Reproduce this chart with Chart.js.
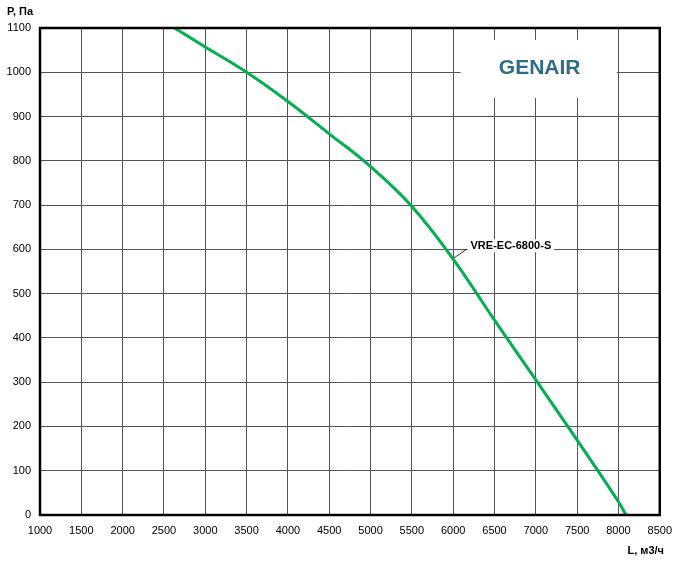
<!DOCTYPE html>
<html>
<head>
<meta charset="utf-8">
<script src="https://cdn.jsdelivr.net/npm/chart.js@4.4.1/dist/chart.umd.min.js"></script>
<style>
  html, body { margin: 0; padding: 0; background: #fff; }
  #wrap { width: 681px; height: 564px; }
</style>
</head>
<body>
<div id="wrap"><canvas id="fanChart" width="681" height="564"></canvas></div>
<script>
// Fan curve VRE-EC-6800-S
const flowL = [2630, 3000, 3500, 4000, 4500, 5000, 5500, 6000, 6500, 7000, 7500, 8000, 8090];
const pressureP = [1100, 1057, 1000, 934, 861, 787, 697, 578, 440, 305, 169, 30, 0];

const xMin = 1000, xMax = 8500, xStep = 500;
const yMin = 0, yMax = 1100, yStep = 100;

const seriesName = "VRE-EC-6800-S";
const labelAt = [5990, 578];      // point on curve where the leader starts
const labelText = [6210, 607];    // where the label sits
const brand = "GENAIR";
const yTitle = "P, Па";
const xTitle = "L, м3/ч";

const tickFont = { family: "Liberation Sans", size: 11 };

// frame, brand box, series label, axis titles
const decorPlugin = {
  id: "decor",
  beforeDatasetsDraw(chart) {
    const { ctx, scales: { x, y } } = chart;
    ctx.save();

    // brand box over the grid
    const bx0 = x.getPixelForValue(6090), bx1 = x.getPixelForValue(7980);
    const by0 = y.getPixelForValue(1073), by1 = y.getPixelForValue(942);
    ctx.fillStyle = "#fff";
    ctx.fillRect(bx0, by0, bx1 - bx0, by1 - by0);
    ctx.fillStyle = "#2d6c86";
    ctx.font = "bold 21px 'Liberation Sans'";
    ctx.textAlign = "center";
    ctx.textBaseline = "middle";
    ctx.fillText(brand, (bx0 + bx1) / 2 + 1, (by0 + by1) / 2 - 1);

    // series label
    const tx = x.getPixelForValue(labelText[0]);
    const ty = y.getPixelForValue(labelText[1]);
    ctx.font = "bold 11px 'Liberation Sans'";
    ctx.textAlign = "left";
    ctx.textBaseline = "middle";
    const w = ctx.measureText(seriesName).width;
    ctx.fillStyle = "#fff";
    ctx.fillRect(tx - 3, ty - 7, w + 6, 13);
    ctx.fillStyle = "#000";
    ctx.fillText(seriesName, tx, ty);
    ctx.strokeStyle = "#000";
    ctx.lineWidth = 0.8;
    ctx.beginPath();
    ctx.moveTo(x.getPixelForValue(labelAt[0]), y.getPixelForValue(labelAt[1]));
    ctx.lineTo(tx - 4, ty + 3);
    ctx.stroke();
    ctx.restore();
  },
  afterDraw(chart) {
    const { ctx, chartArea: a } = chart;
    ctx.save();
    ctx.strokeStyle = "#000";
    ctx.lineWidth = 2.5;
    ctx.strokeRect(a.left, a.top, a.right - a.left, a.bottom - a.top);

    ctx.fillStyle = "#000";
    ctx.font = "bold 11px 'Liberation Sans'";
    ctx.textBaseline = "middle";
    ctx.textAlign = "left";
    ctx.fillText(yTitle, 7, 12);
    ctx.textAlign = "right";
    ctx.fillText(xTitle, 664, 551);
    ctx.restore();
  }
};

new Chart(document.getElementById("fanChart"), {
  type: "line",
  data: {
    datasets: [{
      label: seriesName,
      data: flowL.map((v, i) => ({ x: v, y: pressureP[i] })),
      borderColor: "#00b050",
      borderWidth: 3,
      pointRadius: 0,
      tension: 0.4,
      fill: false
    }]
  },
  options: {
    responsive: false,
    animation: false,
    devicePixelRatio: 1,
    layout: { padding: { top: 28, right: 19, left: 0, bottom: 0 } },
    plugins: { legend: { display: false }, tooltip: { enabled: false } },
    scales: {
      x: {
        type: "linear",
        min: xMin, max: xMax,
        afterBuildTicks: s => {
          s.ticks = [];
          for (let v = xMin; v <= xMax; v += xStep) s.ticks.push({ value: v });
        },
        afterFit: s => { s.height = 49; },
        grid: { color: "#555", lineWidth: 1, drawTicks: false },
        border: { display: false },
        ticks: { color: "#000", font: tickFont, padding: 9, maxRotation: 0, autoSkip: false, callback: v => String(v) }
      },
      y: {
        type: "linear",
        min: yMin, max: yMax,
        afterBuildTicks: s => {
          s.ticks = [];
          for (let v = yMin; v <= yMax; v += yStep) s.ticks.push({ value: v });
        },
        afterFit: s => { s.width = 40; },
        grid: { color: "#555", lineWidth: 1, drawTicks: false },
        border: { display: false },
        ticks: { color: "#000", font: tickFont, padding: 9, autoSkip: false, callback: v => String(v) }
      }
    }
  },
  plugins: [decorPlugin]
});
</script>
</body>
</html>
